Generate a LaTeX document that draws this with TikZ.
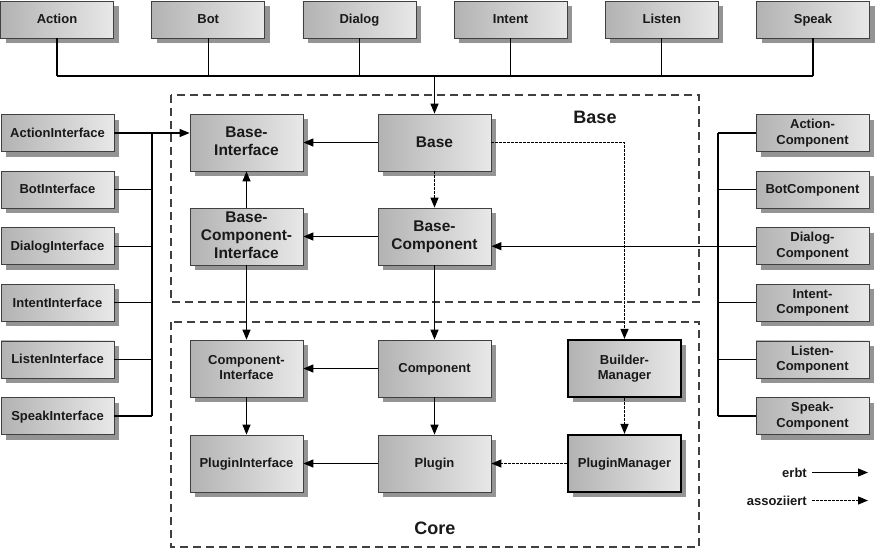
\documentclass[tikz,border=0pt]{standalone}
\usepackage{fontspec}
\setmainfont{Liberation Sans}
\usetikzlibrary{arrows.meta,shadows}

\newcommand{\boxstrut}{\rule[-0.18em]{0pt}{1.02em}}

\begin{document}
\begin{tikzpicture}[x=1pt, y=-1pt, inner sep=1pt,
		boxstyle/.style={draw=black!75, line width=0.8pt, left color=black!30, right color=black!9,
			minimum width=113pt, minimum height=37pt, align=center, text=black!90,
			font=\bfseries\fontsize{13}{15.5}\selectfont,
			execute at begin node=\boxstrut, execute at end node=\boxstrut,
			drop shadow={shadow xshift=5pt, shadow yshift=-5pt, fill=black!42, opacity=1}},
		bigstyle/.style={boxstyle, minimum height=57pt, font=\bfseries\fontsize{15.5}{18}\selectfont},
		corestyle/.style={boxstyle, minimum height=57pt},
		managerstyle/.style={corestyle, draw=black, line width=2.2pt},
		framestyle/.style={draw=black!75, line width=1.2pt, dash pattern=on 8pt off 5pt},
		labelstyle/.style={font=\bfseries\fontsize{18}{20}\selectfont, text=black!90},
		legendstyle/.style={anchor=east, font=\bfseries\fontsize{13}{15}\selectfont, text=black!90},
		edgestyle/.style={line width=1.2pt, -{Triangle[length=10pt, width=8pt]}},
		linestyle/.style={line width=1.2pt},
		assocstyle/.style={edgestyle, dash pattern=on 2.5pt off 1.5pt}]

		\useasboundingbox (0,0) rectangle (876,550);

		% Rahmen
		\draw[framestyle] (171,95) rectangle (699,302);
		\draw[framestyle] (171,322) rectangle (699,547);
		\node[labelstyle] (baselabel) at (595,117) {Base};
		\node[labelstyle] (corelabel) at (435,528) {Core};

		% obere Reihe
		\foreach \name [count=\i from 0] in {Action, Bot, Dialog, Intent, Listen, Speak}
		{
			\node[boxstyle] (top\name) at ({57+151.2*\i},19.5) {\name};
		}

		% Interfaces links
		\foreach \name [count=\i from 0] in {Action, Bot, Dialog, Intent, Listen, Speak}
		{
			\node[boxstyle] (if\name) at (57.5,{133+56.6*\i}) {\name Interface};
		}

		% Components rechts
		\foreach \name/\text [count=\i from 0] in {Action/{Action-\\Component}, Bot/BotComponent,
			Dialog/{Dialog-\\Component}, Intent/{Intent-\\Component},
			Listen/{Listen-\\Component}, Speak/{Speak-\\Component}}
		{
			\node[boxstyle] (co\name) at (812.5,{133+56.6*\i}) {\text};
		}

		% Base
		\node[bigstyle] (bif) at (246.5,142.5) {Base-\\Interface};
		\node[bigstyle] (bcif) at (246.5,236.5) {Base-\\Component-\\Interface};
		\node[bigstyle] (base) at (434.5,142.5) {Base};
		\node[bigstyle] (bco) at (434.5,236.5) {Base-\\Component};

		% Core
		\node[corestyle] (cif) at (246.5,368.5) {Component-\\Interface};
		\node[corestyle] (comp) at (434.5,368.5) {Component};
		\node[managerstyle] (bm) at (624.5,368.5) {Builder-\\Manager};
		\node[corestyle] (pif) at (246.5,463.5) {PluginInterface};
		\node[corestyle] (plug) at (434.5,463.5) {Plugin};
		\node[managerstyle] (pm) at (624.5,463.5) {PluginManager};

		% Sammelleitungen
		\coordinate (topbus) at (434.5,76);
		\coordinate (lbus) at (152,0);
		\coordinate (rbus) at (718,0);

		\foreach \name in {Action, Bot, Dialog, Intent, Listen, Speak}
		{
			\draw[linestyle] (top\name.south) -- (top\name.south |- topbus);
			\draw[linestyle] (if\name.east) -- (if\name.east -| lbus);
			\draw[linestyle] (co\name.west) -- (co\name.west -| rbus);
		}
		\draw[linestyle] (topAction.south |- topbus) -- (topSpeak.south |- topbus);
		\draw[linestyle] (ifAction.east -| lbus) -- (ifSpeak.east -| lbus);
		\draw[linestyle] (coAction.west -| rbus) -- (coSpeak.west -| rbus);

		\draw[edgestyle] (topbus) -- (base.north);
		\draw[edgestyle] (ifAction.east) -- (ifAction.east -| bif.west);
		\draw[edgestyle] (coDialog.west) -- (coDialog.west -| bco.east);

		% Vererbung
		\draw[edgestyle] (base) -- (bif);
		\draw[edgestyle] (bcif) -- (bif);
		\draw[edgestyle] (bco) -- (bcif);
		\draw[edgestyle] (bcif) -- (cif);
		\draw[edgestyle] (bco) -- (comp);
		\draw[edgestyle] (comp) -- (cif);
		\draw[edgestyle] (cif) -- (pif);
		\draw[edgestyle] (comp) -- (plug);
		\draw[edgestyle] (plug) -- (pif);

		% Assoziationen
		\draw[assocstyle] (base) -- (bco);
		\draw[assocstyle] (base.east) -| (bm.north);
		\draw[assocstyle] (bm) -- (pm);
		\draw[assocstyle] (pm) -- (plug);

		% Legende
		\node[legendstyle] (erbt) at (808,472.5) {erbt};
		\node[legendstyle] (assoz) at (808,500.5) {assoziiert};
		\coordinate (erbtend) at (868,472.5);
		\coordinate (assozend) at (868,500.5);
		\draw[edgestyle] ([xshift=4pt]erbt.east) -- (erbtend);
		\draw[assocstyle] ([xshift=4pt]assoz.east) -- (assozend);

		\end{tikzpicture}
\end{document}
